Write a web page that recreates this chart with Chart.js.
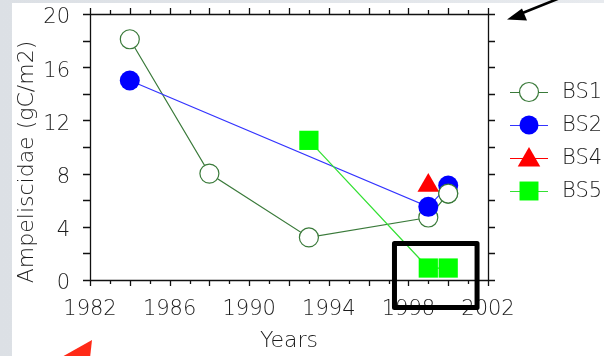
<!DOCTYPE html>
<html>
<head>
<meta charset="utf-8">
<style>
  html, body { margin: 0; padding: 0; }
  body { width: 604px; height: 356px; overflow: hidden; position: relative;
         background: linear-gradient(90deg, #dce0e5, #e7eaee); }
  #sheet { position: absolute; left: 12px; top: 3px; right: 0; bottom: 0; background: #ffffff; }
  #wrap { position: absolute; left: 0; top: 0; width: 604px; height: 356px; }
</style>
<script src="https://cdn.jsdelivr.net/npm/chart.js@4/dist/chart.umd.min.js"></script>
</head>
<body>
<div id="sheet"></div>
<div id="wrap"><canvas id="c" width="604" height="356"></canvas></div>
<script>
// Ampeliscidae biomass per station
const bs1Years  = [1984, 1988, 1993, 1999, 2000];
const bs1Values = [18.1, 8.0, 3.2, 4.7, 6.5];
const bs2Years  = [1984, 1999, 2000];
const bs2Values = [15.0, 5.5, 7.1];
const bs4Years  = [1999];
const bs4Values = [7.1];
const bs5Years  = [1993, 1999, 2000];
const bs5Values = [10.5, 0.9, 0.9];

const xTickLabels = [1982, 1986, 1990, 1994, 1998, 2002];
const yTickLabels = [0, 4, 8, 12, 16, 20];
const xTitle = 'Years';
const yTitle = 'Ampeliscidae (gC/m2)';

const FONT = { family: 'DejaVu Sans', size: 21, weight: '300' };
const TEXT = '#1c1c1c';

function points(xs, ys) { return xs.map((x, i) => ({ x: x, y: ys[i] })); }

const datasets = [
  { label: 'BS1', data: points(bs1Years, bs1Values), borderColor: '#3a7a3a', borderWidth: 1.2,
    pointStyle: 'circle', pointRadius: 9.5, pointBorderWidth: 1.2,
    pointBorderColor: '#3a7a3a', pointBackgroundColor: '#ffffff', order: 3 },
  { label: 'BS2', data: points(bs2Years, bs2Values), borderColor: '#3333ff', borderWidth: 1.2,
    pointStyle: 'circle', pointRadius: 10, pointBorderWidth: 0,
    pointBorderColor: '#0000ff', pointBackgroundColor: '#0000ff', order: 2 },
  { label: 'BS4', data: points(bs4Years, bs4Values), borderColor: '#ff0000', borderWidth: 1.2,
    pointStyle: 'triangle', pointRadius: 12.5, pointBorderWidth: 0,
    pointBorderColor: '#ff0000', pointBackgroundColor: '#ff0000', order: 1 },
  { label: 'BS5', data: points(bs5Years, bs5Values), borderColor: '#33e033', borderWidth: 1.2,
    pointStyle: 'rect', pointRadius: 13.6, pointBorderWidth: 0,
    pointBorderColor: '#00ff00', pointBackgroundColor: '#00ff00', order: 0 }
];

// axis frame: box on all four sides with outward tick marks
const framePlugin = {
  id: 'frame',
  beforeDatasetsDraw(chart) {
    const { ctx, chartArea: a } = chart;
    const xs = chart.scales.x, ys = chart.scales.y;
    ctx.save();
    ctx.strokeStyle = '#111';
    ctx.lineWidth = 1.3;
    ctx.beginPath();
    ctx.rect(Math.round(a.left) + 0.5, Math.round(a.top) + 0.5,
             Math.round(a.right - a.left), Math.round(a.bottom - a.top));
    for (let yr = xs.min; yr <= xs.max; yr++) {
      const px = Math.round(xs.getPixelForValue(yr)) + 0.5;
      const len = (yr % 2 === 0) ? 6 : 4;
      ctx.moveTo(px, a.bottom); ctx.lineTo(px, a.bottom + len);
      ctx.moveTo(px, a.top);    ctx.lineTo(px, a.top - len);
    }
    for (let v = ys.min; v <= ys.max; v += 2) {
      const py = Math.round(ys.getPixelForValue(v)) + 0.5;
      ctx.moveTo(a.left, py);  ctx.lineTo(a.left - 7, py);
      ctx.moveTo(a.right, py); ctx.lineTo(a.right + 7, py);
    }
    ctx.stroke();
    ctx.restore();
  },
  afterDatasetsDraw(chart) {
    // the BS1 marker for 2000 sits above the BS2 marker
    const meta = chart.getDatasetMeta(0);
    const idx = bs1Years.indexOf(2000);
    if (meta && meta.data[idx]) meta.data[idx].draw(chart.ctx, chart.chartArea);
  }
};

// vertical axis title, set a little below the middle of the axis
const yTitlePlugin = {
  id: 'yTitle',
  afterDraw(chart) {
    const ctx = chart.ctx;
    ctx.save();
    ctx.translate(27, 162);
    ctx.rotate(-Math.PI / 2);
    ctx.fillStyle = TEXT;
    ctx.font = '300 22px "DejaVu Sans"';
    ctx.textAlign = 'center';
    ctx.textBaseline = 'middle';
    ctx.fillText(yTitle, 0, 0);
    ctx.restore();
  }
};

// legend at the right: short line with the series marker, then the name
const legendPlugin = {
  id: 'sideLegend',
  afterDraw(chart) {
    const ctx = chart.ctx;
    const rows = [92, 125, 158, 191];
    const drawPoint = Chart.helpers && Chart.helpers.drawPoint;
    ctx.save();
    chart.data.datasets.forEach((d, i) => {
      const y = rows[i];
      ctx.strokeStyle = d.borderColor;
      ctx.lineWidth = 1.2;
      ctx.beginPath(); ctx.moveTo(510, y + 0.5); ctx.lineTo(548, y + 0.5); ctx.stroke();
      ctx.fillStyle = d.pointBackgroundColor;
      ctx.strokeStyle = d.pointBorderColor;
      ctx.lineWidth = d.pointBorderWidth || 0;
      const r = d.pointStyle === 'triangle' ? 13 : (d.pointStyle === 'rect' ? 13.4 : 9.5);
      if (drawPoint) drawPoint(ctx, { pointStyle: d.pointStyle, radius: r, borderWidth: d.pointBorderWidth, rotation: 0 },
                               529, y + (d.pointStyle === 'triangle' ? 2 : 0));
      ctx.fillStyle = TEXT;
      ctx.font = '300 21px "DejaVu Sans"';
      ctx.textAlign = 'left';
      ctx.textBaseline = 'middle';
      ctx.fillText(d.label, 562, y + 1);
    });
    ctx.restore();
  }
};

// callouts drawn over the chart: box around the late BS5 values and two arrows
const calloutPlugin = {
  id: 'callouts',
  afterDraw(chart) {
    const ctx = chart.ctx;
    const xs = chart.scales.x, ys = chart.scales.y;
    ctx.save();
    const l = xs.getPixelForValue(1997.3), r = xs.getPixelForValue(2001.45);
    const t = ys.getPixelForValue(2.75),  b = ys.getPixelForValue(-2.07);
    ctx.strokeStyle = '#000';
    ctx.lineWidth = 5;
    ctx.lineJoin = 'round';
    ctx.strokeRect(l, t, r - l, b - t);
    // black arrow, top right
    ctx.lineWidth = 2.6;
    ctx.lineCap = 'round';
    ctx.beginPath(); ctx.moveTo(560, -2); ctx.lineTo(520, 14); ctx.stroke();
    ctx.fillStyle = '#000';
    ctx.beginPath();
    ctx.moveTo(507, 19.5);
    ctx.lineTo(522, 8.5);
    ctx.lineTo(527, 20.5);
    ctx.closePath(); ctx.fill();
    // red arrowhead, bottom left
    ctx.fillStyle = '#ff2a17';
    ctx.beginPath();
    ctx.moveTo(92, 340);
    ctx.lineTo(60, 358);
    ctx.lineTo(90, 358);
    ctx.closePath(); ctx.fill();
    ctx.restore();
  }
};

function fixX(s) { s.height = 76; s.paddingLeft = 0; s.paddingRight = 0; }
function fixY(s) { s.width = 90; s.paddingTop = 0; s.paddingBottom = 0; }

new Chart(document.getElementById('c'), {
  type: 'line',
  data: { datasets: datasets },
  options: {
    responsive: false,
    animation: false,
    events: [],
    layout: { padding: { left: 0, top: 14, right: 116, bottom: 0 } },
    plugins: { legend: { display: false }, tooltip: { enabled: false } },
    scales: {
      x: {
        type: 'linear', position: 'bottom', min: 1982, max: 2002,
        afterBuildTicks: s => { s.ticks = xTickLabels.map(v => ({ value: v })); },
        afterFit: fixX,
        grid: { display: false, drawTicks: true, tickLength: 6 },
        border: { display: false },
        ticks: { color: TEXT, font: FONT, padding: 11, maxRotation: 0, minRotation: 0, autoSkip: false,
                 callback: v => String(v) },
        title: { display: true, text: xTitle, color: TEXT,
                 font: { family: 'DejaVu Sans', size: 22, weight: '300' }, padding: { top: 0, bottom: 2 } }
      },
      y: {
        type: 'linear', position: 'left', min: 0, max: 20,
        afterBuildTicks: s => { s.ticks = yTickLabels.map(v => ({ value: v })); },
        afterFit: fixY,
        grid: { display: false, drawTicks: true, tickLength: 7 },
        border: { display: false },
        ticks: { color: TEXT, font: FONT, padding: 13, labelOffset: 4, autoSkip: false,
                 callback: v => String(v) },
        title: { display: false }
      }
    }
  },
  plugins: [framePlugin, yTitlePlugin, legendPlugin, calloutPlugin]
});
</script>
</body>
</html>
